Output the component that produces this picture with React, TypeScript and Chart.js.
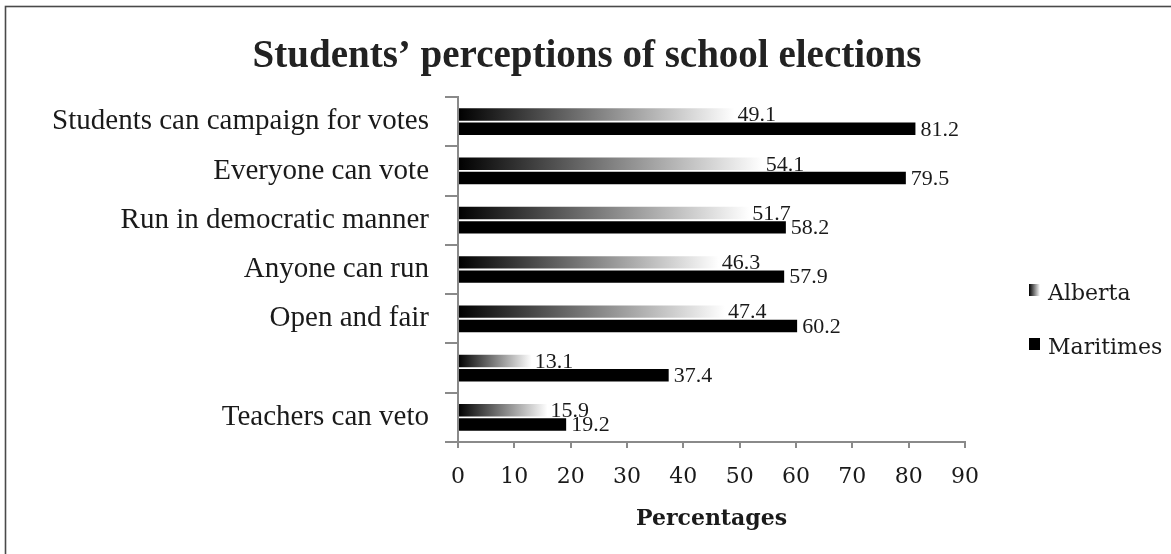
import React, { useEffect, useRef } from "react";
import { Chart, registerables } from "chart.js";

Chart.register(...registerables);

const categories = [
  "Students can campaign for votes",
  "Everyone can vote",
  "Run in democratic manner",
  "Anyone can run",
  "Open and fair",
  "",
  "Teachers can veto",
];
const albertaValues = [49.1, 54.1, 51.7, 46.3, 47.4, 13.1, 15.9];
const maritimesValues = [81.2, 79.5, 58.2, 57.9, 60.2, 37.4, 19.2];
const seriesNames = ["Alberta", "Maritimes"];
const xTicks = [0, 10, 20, 30, 40, 50, 60, 70, 80, 90];
const chartTitle = "Students’ perceptions of school elections";

const TIMES = "'Liberation Serif', 'Times New Roman', serif";
const CAMBRIA = "'DejaVu Serif', serif";
const AXIS_GRAY = "#8a8a8a";

const W = 1171;
const H = 554;

const framePlugin = {
  id: "frame",
  beforeDraw(chart: any) {
    const c = chart.ctx;
    c.save();
    c.fillStyle = "#fff";
    c.fillRect(0, 0, chart.width, chart.height);
    c.strokeStyle = "#4a4a4a";
    c.lineWidth = 1.6;
    c.strokeRect(5.5, 6.5, chart.width + 20, chart.height + 20);
    c.font = `bold 39px ${TIMES}`;
    c.fillStyle = "#222";
    c.textAlign = "center";
    c.textBaseline = "alphabetic";
    c.fillText(chartTitle, 587, 67);
    c.restore();
  },
};

const labelPlugin = {
  id: "valueLabels",
  afterDatasetsDraw(chart: any) {
    const c = chart.ctx;
    c.save();
    c.font = `22px ${TIMES}`;
    c.fillStyle = "#1a1a1a";
    c.textAlign = "left";
    c.textBaseline = "middle";
    chart.data.datasets.forEach((ds: any, di: number) => {
      const meta = chart.getDatasetMeta(di);
      meta.data.forEach((bar: any, i: number) => {
        const v = ds.data[i];
        c.fillText(v.toFixed(1), bar.x + (di === 0 ? 3 : 5), bar.y + 1);
      });
    });
    c.restore();
  },
};

const legendPlugin = {
  id: "customLegend",
  afterDraw(chart: any) {
    const c = chart.ctx;
    c.save();
    const bx = 1029;
    const rows = [290, 344];
    rows.forEach((y, i) => {
      if (i === 0) {
        const g = c.createLinearGradient(bx, 0, bx + 11, 0);
        g.addColorStop(0, "#000");
        g.addColorStop(1, "#fff");
        c.fillStyle = g;
      } else {
        c.fillStyle = "#000";
      }
      c.fillRect(bx, y - 6, 11, 12);
      c.font = `22px ${CAMBRIA}`;
      c.fillStyle = "#1a1a1a";
      c.textAlign = "left";
      c.textBaseline = "middle";
      c.fillText(seriesNames[i], 1048, y + 4);
    });
    c.restore();
  },
};

export default function App() {
  const ref = useRef<HTMLCanvasElement | null>(null);

  useEffect(() => {
    if (!ref.current) return;
    const albertaColor = (ctx: any) => {
      const chart = ctx.chart;
      if (ctx.type !== "data" || !chart.scales || !chart.scales.x) return "#777";
      const x0 = chart.scales.x.getPixelForValue(0);
      const x1 = chart.scales.x.getPixelForValue(ctx.raw);
      if (!isFinite(x0) || !isFinite(x1) || x1 <= x0) return "#777";
      const g = chart.ctx.createLinearGradient(x0, 0, x1, 0);
      g.addColorStop(0, "#000");
      g.addColorStop(1, "#fff");
      return g;
    };
    const chart = new Chart(ref.current, {
      type: "bar",
      data: {
        labels: categories,
        datasets: [
          {
            label: seriesNames[0],
            data: albertaValues,
            backgroundColor: albertaColor,
            borderWidth: 0,
            categoryPercentage: 0.58,
            barPercentage: 0.87,
          },
          {
            label: seriesNames[1],
            data: maritimesValues,
            backgroundColor: "#000",
            borderWidth: 0,
            categoryPercentage: 0.58,
            barPercentage: 0.87,
          },
        ],
      },
      options: {
        indexAxis: "y",
        responsive: false,
        animation: false,
        devicePixelRatio: 1,
        layout: { padding: { left: 0, right: 206, top: 97, bottom: 0 } },
        plugins: {
          legend: { display: false },
          tooltip: { enabled: false },
          title: { display: false },
        },
        scales: {
          x: {
            type: "linear",
            min: 0,
            max: 90,
            afterBuildTicks: (scale: any) => {
              scale.ticks = xTicks.map((v) => ({ value: v }));
            },
            afterFit: (scale: any) => {
              scale.height = 112;
            },
            grid: {
              display: true,
              drawOnChartArea: false,
              drawTicks: true,
              tickLength: 6,
              color: AXIS_GRAY,
              lineWidth: 2,
            },
            border: { display: true, color: AXIS_GRAY, width: 2 },
            ticks: {
              font: { family: CAMBRIA, size: 22 },
              color: "#1a1a1a",
              padding: 16,
              maxRotation: 0,
            },
            title: {
              display: true,
              text: "Percentages",
              font: { family: CAMBRIA, size: 22, weight: "bold" },
              color: "#1a1a1a",
              padding: { top: 0, bottom: 22 },
            },
          },
          y: {
            type: "category",
            afterFit: (scale: any) => {
              scale.width = 458;
            },
            grid: {
              display: true,
              offset: true,
              drawOnChartArea: false,
              drawTicks: true,
              tickLength: 13,
              color: AXIS_GRAY,
              lineWidth: 2,
            },
            border: { display: true, color: AXIS_GRAY, width: 2 },
            ticks: {
              font: { family: TIMES, size: 29 },
              color: "#1a1a1a",
              padding: 16,
              autoSkip: false,
            },
          },
        },
      },
      plugins: [framePlugin, labelPlugin, legendPlugin],
    } as any);
    return () => chart.destroy();
  }, []);

  return (
    <canvas
      ref={ref}
      width={W}
      height={H}
      style={{ position: "fixed", left: 0, top: 0, width: W, height: H }}
    />
  );
}
